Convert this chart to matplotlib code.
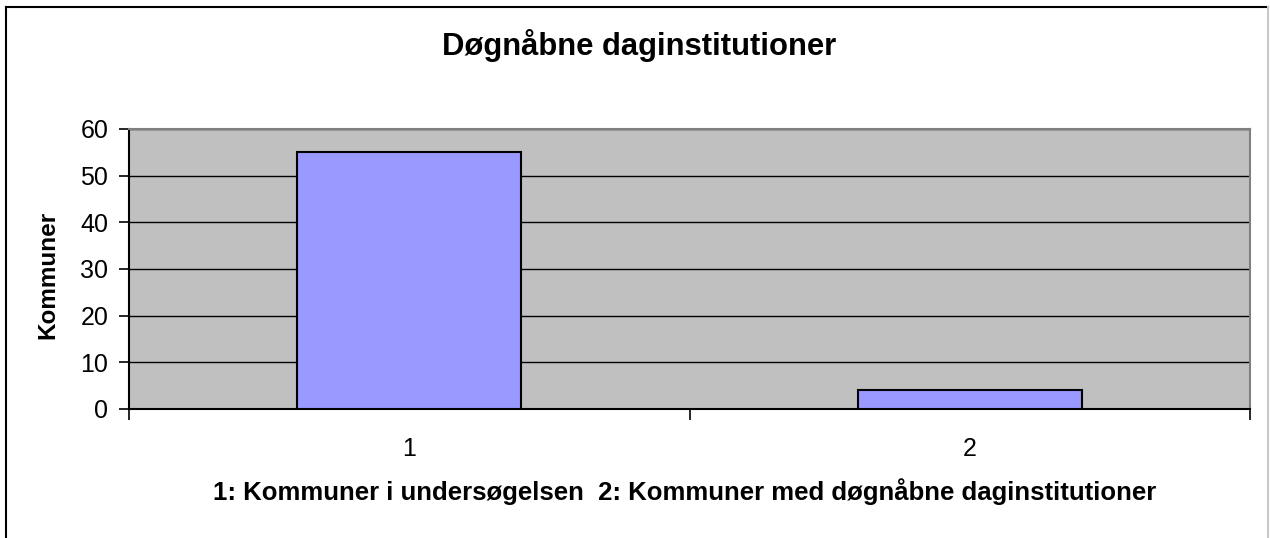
import matplotlib
matplotlib.use("Agg")
import matplotlib.pyplot as plt
from matplotlib.lines import Line2D

plt.rcParams['font.family'] = ['Liberation Sans', 'DejaVu Sans']

categories = ["1", "2"]
values = [55, 4]
title = "Døgnåbne daginstitutioner"
ylabel = "Kommuner"
xlabel = "1: Kommuner i undersøgelsen  2: Kommuner med døgnåbne daginstitutioner"
yticks = [0, 10, 20, 30, 40, 50, 60]

W, H = 1270, 538
fig = plt.figure(figsize=(W / 100, H / 100), dpi=100)
fig.patch.set_facecolor("white")

ax = fig.add_axes([129 / W, 1 - 409 / H, (1250 - 129) / W, (409 - 129) / H])
ax.set_facecolor("#c0c0c0")
pos = list(range(1, len(categories) + 1))
ax.bar(pos, values, width=0.4, color="#9999ff", edgecolor="black", linewidth=1.5, zorder=3)
ax.set_xlim(0.5, 2.5)
ax.set_ylim(0, 60)
ax.set_yticks(yticks)
ax.yaxis.grid(True, color="black", linewidth=1.0, zorder=1)
ax.set_axisbelow(True)

ax.set_xticks(pos)
ax.set_xticklabels(categories, fontsize=18)
ax.tick_params(axis="x", which="major", length=0, pad=20)
ax.set_xticks([0.5, 1.5, 2.5], minor=True)
ax.tick_params(axis="x", which="minor", length=8, width=1.2, direction="out", color="black")
ax.tick_params(axis="y", length=7, width=1.2, direction="out", labelsize=18, pad=8)

for s in ["top", "right"]:
    ax.spines[s].set_color("#808080")
    ax.spines[s].set_linewidth(1.5)
for s in ["left", "bottom"]:
    ax.spines[s].set_color("black")
    ax.spines[s].set_linewidth(1.5)

fig.text(639 / W, 1 - 46 / H, title, ha="center", va="center", fontsize=22.3, fontweight="bold")
fig.text(685 / W, 1 - 492 / H, xlabel, ha="center", va="center", fontsize=18.5, fontweight="bold")
fig.text(48 / W, 1 - 275 / H, ylabel, ha="center", va="center", rotation=90, fontsize=17.5, fontweight="bold")

# outer chart border
fig.add_artist(Line2D([6 / W, 6 / W], [0, 1 - 7 / H], color="black", linewidth=1.5, transform=fig.transFigure))
fig.add_artist(Line2D([6 / W, 1268 / W], [1 - 7 / H, 1 - 7 / H], color="black", linewidth=1.5, transform=fig.transFigure))
fig.add_artist(Line2D([1268 / W, 1268 / W], [0, 1 - 7 / H], color="#c8c8c8", linewidth=1.5, transform=fig.transFigure))

fig.savefig("out.png", dpi=100)
